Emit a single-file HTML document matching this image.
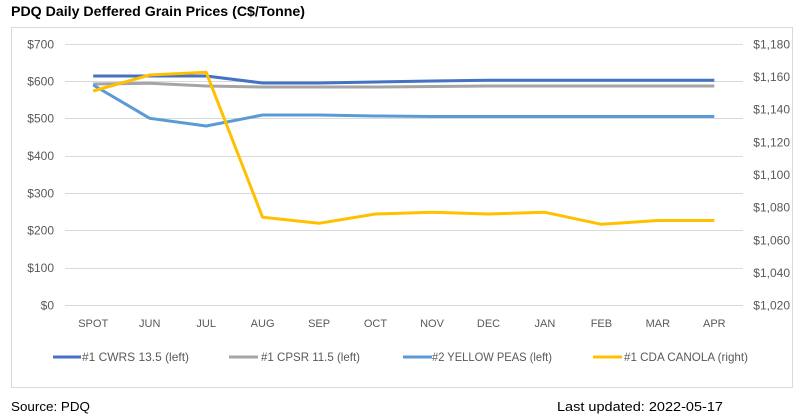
<!DOCTYPE html>
<html><head><meta charset="utf-8"><style>
html,body{margin:0;padding:0;background:#fff;}
svg{display:block;}
text{font-family:"Liberation Sans",Arial,sans-serif;}
</style></head><body>
<svg width="802" height="419" viewBox="0 0 802 419" xmlns="http://www.w3.org/2000/svg">
<rect width="802" height="419" fill="#fff"/>
<text x="11" y="16" font-size="14" font-weight="bold" fill="#000" textLength="294" lengthAdjust="spacingAndGlyphs">PDQ Daily Deffered Grain Prices (C$/Tonne)</text>
<rect x="11.5" y="27.5" width="781" height="360" fill="#fff" stroke="#D9D9D9" stroke-width="1"/>
<g stroke="#D9D9D9" stroke-width="1">
<line x1="65" y1="44.5" x2="743" y2="44.5"/>
<line x1="65" y1="81.5" x2="743" y2="81.5"/>
<line x1="65" y1="118.5" x2="743" y2="118.5"/>
<line x1="65" y1="156.5" x2="743" y2="156.5"/>
<line x1="65" y1="193.5" x2="743" y2="193.5"/>
<line x1="65" y1="230.5" x2="743" y2="230.5"/>
<line x1="65" y1="268.5" x2="743" y2="268.5"/>
<line x1="65" y1="305.5" x2="743" y2="305.5"/>
</g>
<g font-size="12" fill="#595959" text-anchor="end">
<text x="54" y="48.5">$700</text>
<text x="54" y="85.5">$600</text>
<text x="54" y="122.5">$500</text>
<text x="54" y="160">$400</text>
<text x="54" y="197.5">$300</text>
<text x="54" y="234.5">$200</text>
<text x="54" y="272">$100</text>
<text x="54" y="309.5">$0</text>
</g>
<g font-size="12" fill="#595959" text-anchor="end">
<text x="790" y="48.5">$1,180</text>
<text x="790" y="81">$1,160</text>
<text x="790" y="113.5">$1,140</text>
<text x="790" y="146.5">$1,120</text>
<text x="790" y="179">$1,100</text>
<text x="790" y="211.5">$1,080</text>
<text x="790" y="244.5">$1,060</text>
<text x="790" y="277">$1,040</text>
<text x="790" y="309.5">$1,020</text>
</g>
<g font-size="11" fill="#595959" text-anchor="middle">
<text x="93.2" y="327">SPOT</text>
<text x="149.7" y="327">JUN</text>
<text x="206.2" y="327">JUL</text>
<text x="262.6" y="327">AUG</text>
<text x="319.1" y="327">SEP</text>
<text x="375.5" y="327">OCT</text>
<text x="432" y="327">NOV</text>
<text x="488.5" y="327">DEC</text>
<text x="544.9" y="327">JAN</text>
<text x="601.4" y="327">FEB</text>
<text x="657.8" y="327">MAR</text>
<text x="714.3" y="327">APR</text>
</g>
<g fill="none" stroke-width="3" stroke-linejoin="round">
<polyline stroke="#A5A5A5" points="93.2,84 149.7,83.3 206.2,86 262.6,87 319.1,87 375.5,87 432,86.5 488.5,86 544.9,86 601.4,86 657.8,86 714.3,86"/>
<polyline stroke="#4472C4" points="93.2,76 149.7,76 206.2,76 262.6,83 319.1,83 375.5,82 432,81 488.5,80.3 544.9,80.3 601.4,80.3 657.8,80.3 714.3,80.3"/>
<polyline stroke="#5B9BD5" points="93.2,85 149.7,118.3 206.2,126 262.6,115 319.1,115 375.5,116 432,116.5 488.5,116.5 544.9,116.5 601.4,116.5 657.8,116.5 714.3,116.5"/>
<polyline stroke="#FFC000" points="93.2,91 149.7,75 206.2,72.3 262.6,217.3 319.1,223.3 375.5,214 432,212.3 488.5,214 544.9,212.3 601.4,224.3 657.8,220.5 714.3,220.5"/>
</g>
<g stroke-width="3">
<line x1="53" y1="357" x2="81" y2="357" stroke="#4472C4"/>
<line x1="229" y1="357" x2="258" y2="357" stroke="#A5A5A5"/>
<line x1="403" y1="357" x2="432" y2="357" stroke="#5B9BD5"/>
<line x1="593" y1="357" x2="622" y2="357" stroke="#FFC000"/>
</g>
<g font-size="12" fill="#595959">
<text x="82" y="361" textLength="107" lengthAdjust="spacingAndGlyphs">#1 CWRS 13.5 (left)</text>
<text x="261" y="361" textLength="99" lengthAdjust="spacingAndGlyphs">#1 CPSR 11.5 (left)</text>
<text x="432" y="361" textLength="120" lengthAdjust="spacingAndGlyphs">#2 YELLOW PEAS (left)</text>
<text x="624" y="361" textLength="124" lengthAdjust="spacingAndGlyphs">#1 CDA CANOLA (right)</text>
</g>
<text x="11" y="411" font-size="13" fill="#000" textLength="79" lengthAdjust="spacingAndGlyphs">Source: PDQ</text>
<text x="557" y="411" font-size="13" fill="#000" textLength="166" lengthAdjust="spacingAndGlyphs">Last updated: 2022-05-17</text>
</svg>
</body></html>
